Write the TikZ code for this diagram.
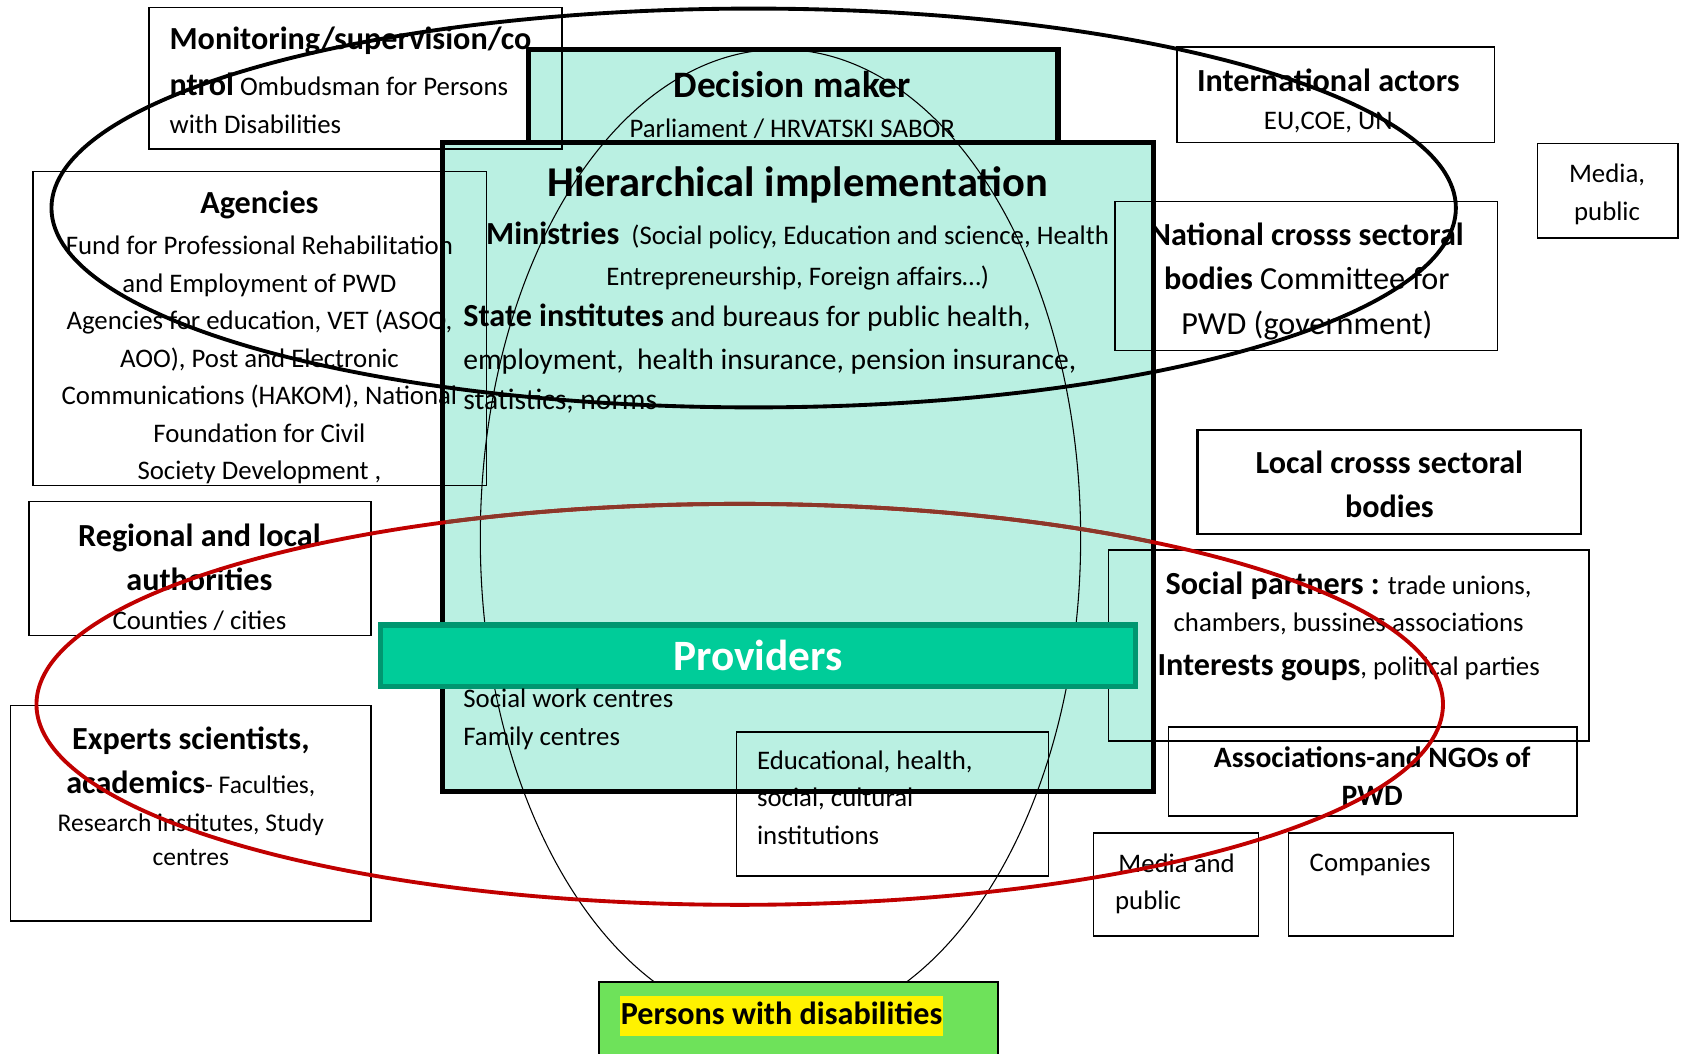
\documentclass[tikz,border=0pt]{standalone}
\usepackage{fontspec}
\setmainfont{Carlito}
\usetikzlibrary{positioning}

\definecolor{mint}{RGB}{186,240,226}
\definecolor{provfill}{RGB}{0,204,153}
\definecolor{provedge}{RGB}{0,150,112}
\definecolor{pwdfill}{RGB}{110,226,90}
\definecolor{ringred}{RGB}{192,0,0}
\definecolor{ringbrown}{RGB}{140,56,42}

\newcommand{\bodyfnt}{\fontsize{25}{35}\selectfont}
\newcommand{\midfnt}{\fontsize{27.6}{38}\selectfont}
\newcommand{\headfnt}{\fontsize{30}{41}\selectfont\bfseries}

\tikzset{
  govbox/.style={draw=black, line width=5pt, fill=mint},
  thinbox/.style={draw=black, line width=1.4pt},
  txt/.style={inner sep=0pt, align=center, font=\bodyfnt},
  ring/.style={line width=3.6pt},
}

\begin{document}
\begin{tikzpicture}[x=1pt, y=-1pt]
  \useasboundingbox (0,0) rectangle (1568,983);

  % decision maker and hierarchical implementation
  \draw[govbox] (493,46) rectangle (987,133);
  \draw[govbox] (413,133) rectangle (1076,738.5);
  \draw[line width=1pt] (728,502) ellipse [x radius=280pt, y radius=456pt];

  % side boxes
  \draw[thinbox] (139,7) rectangle (524,139);
  \draw[thinbox] (31,160) rectangle (454,453);
  \draw[thinbox] (1098,44) rectangle (1394,133);
  \draw[thinbox] (1434,134) rectangle (1565,222);
  \draw[thinbox] (1040,188) rectangle (1397,327);
  \draw[thinbox, line width=2pt] (1117,401) rectangle (1475,498);
  \draw[thinbox] (1034,513) rectangle (1482,691);
  \draw[thinbox] (1090,678) rectangle (1471,761);
  \draw[thinbox] (1020,777) rectangle (1174,873);
  \draw[thinbox] (1202,777) rectangle (1356,873);
  \draw[thinbox] (27,468) rectangle (346,593);
  \draw[thinbox] (10,658) rectangle (346,859);
  \draw[thinbox] (687,683) rectangle (978,817);

  % providers bar and target group
  \draw[fill=provfill, draw=provedge, line width=5pt] (355,583) rectangle (1059,640.5);
  \draw[fill=pwdfill, draw=black, line width=2pt] (559,916) rectangle (931,995);

  % texts
  \node[txt, align=left, anchor=west] (monitortxt) at (158,75)
    {{\headfnt Monitoring/supervision/co}\\[8]{\headfnt ntrol} Ombudsman for Persons\\[1]with Disabilities};
  \node[txt] (decisiontxt) at (739,98)
    {{\fontsize{34.8}{41}\selectfont\bfseries Decision maker}\\[2.3]Parliament / HRVATSKI SABOR};
  \node[txt, anchor=base, font=\fontsize{39.6}{46}\selectfont\bfseries] (hiertxt) at (744,183.5)
    {Hierarchical implementation};
  \node[txt] (ministrytxt) at (744,239)
    {{\headfnt Ministries}\ \ (Social policy, Education and science, Health\\[3.3]Entrepreneurship, Foreign affairs\dots)};
  \node[txt, align=left, anchor=west, font=\midfnt] (statetxt) at (432,334.5)
    {{\headfnt State institutes} and bureaus for public health,\\[2]employment,\ \ health insurance, pension insurance,\\[-1]statistics, norms};
  \node[txt, align=left, anchor=west] (centrestxt) at (432,671)
    {Social work centres\\Family centres};
  \node[txt] (agencytxt) at (242,315)
    {{\headfnt Agencies}\\[3]Fund for Professional Rehabilitation\\and Employment of PWD\\Agencies for education, VET (ASOO,\\AOO), Post and Electronic\\Communications (HAKOM), National\\Foundation for Civil\\Society Development ,};
  \node[txt] (intltxt) at (1239,94)
    {{\headfnt International actors}\\[0.5]EU,COE, UN};
  \node[txt] (mediatxt) at (1499,181.5)
    {Media,\\public};
  \node[txt, font=\fontsize{30}{41.5}\selectfont] (nationaltxt) at (1219,262.5)
    {\textbf{National crosss sectoral}\\\textbf{bodies} Committee for\\PWD (government)};
  \node[txt, font=\headfnt] (localtxt) at (1296,452)
    {Local crosss sectoral\\bodies};
  \node[txt] (partnerstxt) at (1258,584.5)
    {{\headfnt Social partners :} trade unions,\\[-0.5]chambers, bussines associations\\[5.5]{\headfnt Interests goups}, political parties};
  \node[txt, font=\fontsize{27.6}{36}\selectfont\bfseries] (ngotxt) at (1280,724)
    {Associations-and NGOs of\\PWD};
  \node[txt, align=left, anchor=west] (mediapubtxt) at (1040,824.5)
    {\hspace{3pt}Media and\\public};
  \node[txt, anchor=base] (companytxt) at (1278,813)
    {Companies};
  \node[txt] (regionaltxt) at (186,538.5)
    {{\headfnt Regional and local}\\[6]{\headfnt authorities}\\[1.5]Counties / cities};
  \node[txt, font=\fontsize{23.8}{32}\selectfont] (expertstxt) at (178,743)
    {{\headfnt Experts scientists,}\\[9]{\headfnt academics}- Faculties,\\[3.5]Research institutes, Study\\centres};
  \node[txt, align=left, anchor=west] (edutxt) at (706,744)
    {Educational, health,\\social, cultural\\institutions};
  \node[txt, font=\fontsize{40.4}{48}\selectfont\bfseries, text=white] (providerstxt) at (707,611)
    {Providers};
  \node[txt, font=\headfnt, fill=yellow, text height=23pt, text depth=7pt, inner ysep=3.5pt, inner xsep=1pt] (pwdtxt) at (729,947.5)
    {Persons with disabilities};

  % policy rings
  \draw[ring] (703,194) ellipse [x radius=655pt, y radius=186pt];
  \draw[ring, ringred] (690,657) ellipse [x radius=656pt, y radius=187pt];
  \begin{scope}
    \clip (416,136) rectangle (1073,736);
    \draw[ring, ringbrown] (690,657) ellipse [x radius=656pt, y radius=187pt];
  \end{scope}
\end{tikzpicture}
\end{document}
